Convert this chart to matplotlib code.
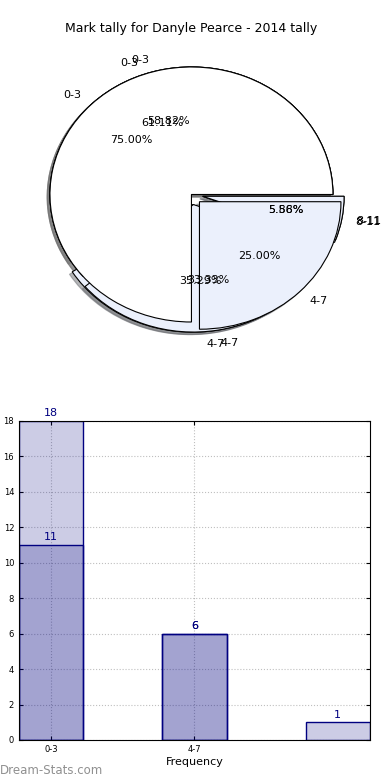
import numpy as np
import matplotlib
matplotlib.use('Agg')
import matplotlib.pyplot as plt

# Chart data
categories = ['0-3', '4-7', '8-11']
tally_a = [18, 6]        # 2014 tally (first series)
tally_b = [11, 6, 1]     # second series
tally_c = [10, 6, 1]     # third series (pie only)
pie_colors = ['white', '#ebf0fc', '#ebf0fc']

fig = plt.figure(figsize=(3.9, 7.8), dpi=100)

# Pie chart(s), drawn on top of each other
ax1 = fig.add_axes([0.0374, 0.5463, 0.907, 0.4087])
for vals in (tally_c, tally_b, tally_a):
    n = len(vals)
    ax1.pie(vals, labels=categories[:n], colors=pie_colors[:n],
            explode=[0] + [0.08] * (n - 1), autopct='%.2f%%',
            shadow={'ox': -0.014, 'oy': -0.014, 'shade': 0.55},
            startangle=0, textprops={'fontsize': 8},
            wedgeprops={'edgecolor': 'black', 'linewidth': 0.8})
ax1.set_aspect('auto')
ax1.set_xlim(-1.25, 1.25)
ax1.set_ylim(-1.25, 1.25)
ax1.set_title('Mark tally for Danyle Pearce - 2014 tally', fontsize=9, pad=0)

# Bar chart
ax2 = fig.add_axes([0.0487, 0.0513, 0.9, 0.409])
width = 0.45
for vals in (tally_a, tally_b):
    x = np.arange(len(vals))
    ax2.bar(x, vals, width=width, facecolor=(0, 0, 0.5, 0.2),
            edgecolor='navy', linewidth=1, zorder=2)
    for xi, v in zip(x, vals):
        ax2.text(xi, v + 0.15, str(v), ha='center', va='bottom',
                 color='navy', fontsize=8)
ax2.set_xlim(-width / 2, 2 + width / 2)
ax2.set_ylim(0, 18)
ax2.set_yticks(range(0, 19, 2))
ax2.set_xticks([0, 1])
ax2.set_xticklabels(categories[:2])
ax2.tick_params(labelsize=6, direction='in', top=True, right=True, length=3)
ax2.grid(True, linestyle=':', color='gray', alpha=0.5, zorder=0)
ax2.set_xlabel('Frequency', fontsize=8, labelpad=2)
ax2.set_ylabel('Mark Tally', fontsize=8)

fig.text(0.0, 1 - 770 / 780, 'Dream-Stats.com', color='#909090',
         fontsize=8.5, va='center')

fig.savefig('out.png', dpi=100)
